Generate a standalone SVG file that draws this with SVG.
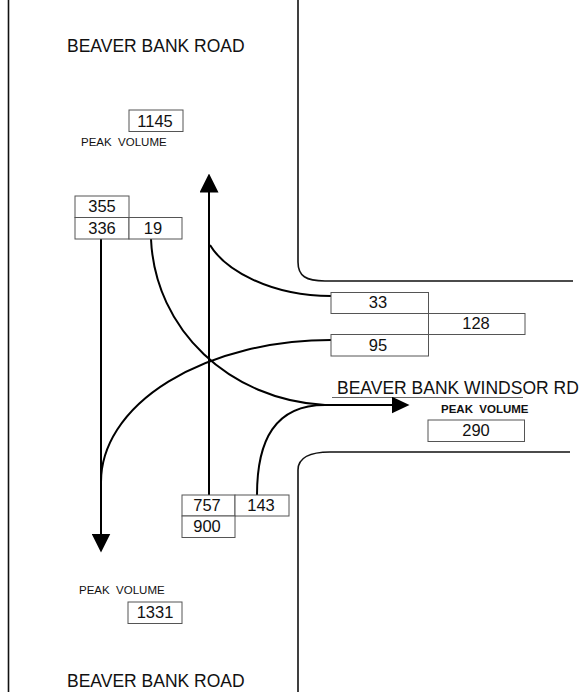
<svg xmlns="http://www.w3.org/2000/svg" width="585" height="692" viewBox="0 0 585 692">
<style>
.road{fill:none;stroke:#111;stroke-width:1.6}
.flow{fill:none;stroke:#000;stroke-width:2}
.box{fill:#fff;stroke:#555;stroke-width:1}
.num{font-family:"Liberation Sans",Arial,sans-serif;font-size:16.5px;fill:#111;text-anchor:middle}
.lbl{font-family:"Liberation Sans",Arial,sans-serif;font-size:17.5px;fill:#111}
.pk{font-family:"Liberation Sans",Arial,sans-serif;font-size:11.5px;fill:#111}
</style>
<defs>
<marker id="headV" markerUnits="userSpaceOnUse" viewBox="0 0 19 19" markerWidth="19" markerHeight="19" refX="0.5" refY="9.5" orient="auto"><path d="M0,0 L19,9.5 L0,19 Z" fill="#000"/></marker>
<marker id="headH" markerUnits="userSpaceOnUse" viewBox="0 0 18 17" markerWidth="18" markerHeight="17" refX="0.5" refY="8.5" orient="auto"><path d="M0,0 L18,8.5 L0,17 Z" fill="#000"/></marker>
</defs>
<rect width="585" height="692" fill="#fff"/>
<g id="roads">
<line class="road" x1="8.5" y1="0" x2="8.5" y2="692"/>
<path class="road" d="M298,0 V262 C298,276 306,281 325,281 H573"/>
<path class="road" d="M570,452 H330 C310,452 298,458 298,470 V692"/>
</g>
<g id="labels">
<text class="lbl" x="67" y="52">BEAVER BANK ROAD</text>
<text class="lbl" x="67" y="687">BEAVER BANK ROAD</text>
<text class="lbl" x="337" y="394">BEAVER BANK WINDSOR RD</text>
<line x1="332" y1="397.5" x2="523" y2="397.5" stroke="#666" stroke-width="1"/>
<text class="pk" x="81" y="145.5">PEAK&#160; VOLUME</text>
<text class="pk" x="79" y="594">PEAK&#160; VOLUME</text>
<text class="pk" x="441" y="412.5" font-weight="bold">PEAK&#160; VOLUME</text>
</g>
<g id="connectors">
<path class="flow" d="M209,495 V192" marker-end="url(#headV)"/>
<path class="flow" d="M101,239 V534" marker-end="url(#headV)"/>
<path class="flow" d="M320,405 H392" marker-end="url(#headH)"/>
<path class="flow" d="M151,239 C155,330 230,400 325,405"/>
<path class="flow" d="M257,495 C257,440 275,405 325,405"/>
<path class="flow" d="M331,340 A230,142 0 0 0 101,482"/>
<path class="flow" d="M210,245 C225,270 270,296 331,296"/>
</g>
<g id="n1145"><rect class="box" x="129" y="110" width="54" height="21.5"/><text class="num" x="155" y="126.5">1145</text></g>
<g id="n355"><rect class="box" x="75" y="196" width="54" height="21.5"/><text class="num" x="102" y="212">355</text></g>
<g id="n336"><rect class="box" x="75" y="217.5" width="54" height="21.5"/><text class="num" x="102" y="233.5">336</text></g>
<g id="n19"><rect class="box" x="129" y="217.5" width="53" height="21.5"/><text class="num" x="153" y="233.5">19</text></g>
<g id="n757"><rect class="box" x="182" y="495" width="53" height="21"/><text class="num" x="207" y="511">757</text></g>
<g id="n143"><rect class="box" x="235" y="495" width="54" height="21"/><text class="num" x="261" y="511">143</text></g>
<g id="n900"><rect class="box" x="182" y="516" width="53" height="21.5"/><text class="num" x="207" y="531.5">900</text></g>
<g id="n33"><rect class="box" x="331" y="292.5" width="97.5" height="21"/><text class="num" x="378" y="307.5">33</text></g>
<g id="n128"><rect class="box" x="428.5" y="313.5" width="96.5" height="21"/><text class="num" x="476" y="329">128</text></g>
<g id="n95"><rect class="box" x="331" y="334.5" width="97.5" height="21.5"/><text class="num" x="378" y="351">95</text></g>
<g id="n290"><rect class="box" x="428" y="420" width="96.5" height="21.5"/><text class="num" x="476" y="436">290</text></g>
<g id="n1331"><rect class="box" x="128" y="602" width="54" height="21.5"/><text class="num" x="155" y="617.5">1331</text></g>
</svg>
